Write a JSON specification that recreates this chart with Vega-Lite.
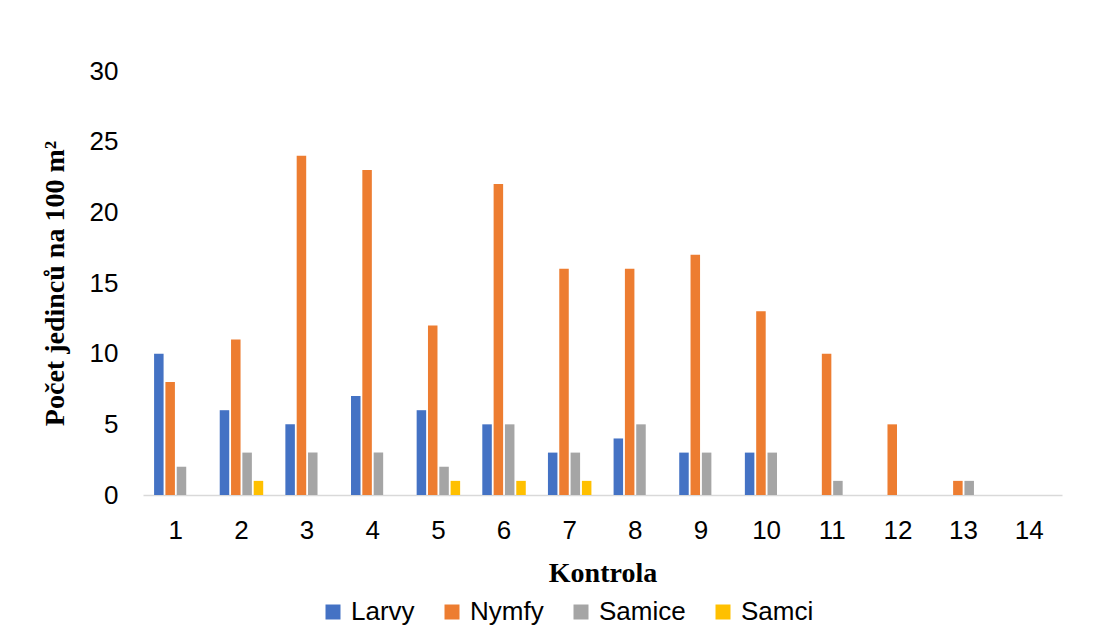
{
  "$schema": "https://vega.github.io/schema/vega-lite/v6.json",
  "width": 919,
  "height": 424,
  "autosize": {"type": "none"},
  "padding": {"left": 143, "top": 71, "right": 31, "bottom": 149},
  "background": "white",
  "config": {
    "view": {"stroke": null}
  },
  "data": {
    "values": [
      {"k": 1, "s": "Larvy", "v": 10}, {"k": 1, "s": "Nymfy", "v": 8}, {"k": 1, "s": "Samice", "v": 2}, {"k": 1, "s": "Samci", "v": 0},
      {"k": 2, "s": "Larvy", "v": 6}, {"k": 2, "s": "Nymfy", "v": 11}, {"k": 2, "s": "Samice", "v": 3}, {"k": 2, "s": "Samci", "v": 1},
      {"k": 3, "s": "Larvy", "v": 5}, {"k": 3, "s": "Nymfy", "v": 24}, {"k": 3, "s": "Samice", "v": 3}, {"k": 3, "s": "Samci", "v": 0},
      {"k": 4, "s": "Larvy", "v": 7}, {"k": 4, "s": "Nymfy", "v": 23}, {"k": 4, "s": "Samice", "v": 3}, {"k": 4, "s": "Samci", "v": 0},
      {"k": 5, "s": "Larvy", "v": 6}, {"k": 5, "s": "Nymfy", "v": 12}, {"k": 5, "s": "Samice", "v": 2}, {"k": 5, "s": "Samci", "v": 1},
      {"k": 6, "s": "Larvy", "v": 5}, {"k": 6, "s": "Nymfy", "v": 22}, {"k": 6, "s": "Samice", "v": 5}, {"k": 6, "s": "Samci", "v": 1},
      {"k": 7, "s": "Larvy", "v": 3}, {"k": 7, "s": "Nymfy", "v": 16}, {"k": 7, "s": "Samice", "v": 3}, {"k": 7, "s": "Samci", "v": 1},
      {"k": 8, "s": "Larvy", "v": 4}, {"k": 8, "s": "Nymfy", "v": 16}, {"k": 8, "s": "Samice", "v": 5}, {"k": 8, "s": "Samci", "v": 0},
      {"k": 9, "s": "Larvy", "v": 3}, {"k": 9, "s": "Nymfy", "v": 17}, {"k": 9, "s": "Samice", "v": 3}, {"k": 9, "s": "Samci", "v": 0},
      {"k": 10, "s": "Larvy", "v": 3}, {"k": 10, "s": "Nymfy", "v": 13}, {"k": 10, "s": "Samice", "v": 3}, {"k": 10, "s": "Samci", "v": 0},
      {"k": 11, "s": "Larvy", "v": 0}, {"k": 11, "s": "Nymfy", "v": 10}, {"k": 11, "s": "Samice", "v": 1}, {"k": 11, "s": "Samci", "v": 0},
      {"k": 12, "s": "Larvy", "v": 0}, {"k": 12, "s": "Nymfy", "v": 5}, {"k": 12, "s": "Samice", "v": 0}, {"k": 12, "s": "Samci", "v": 0},
      {"k": 13, "s": "Larvy", "v": 0}, {"k": 13, "s": "Nymfy", "v": 1}, {"k": 13, "s": "Samice", "v": 1}, {"k": 13, "s": "Samci", "v": 0},
      {"k": 14, "s": "Larvy", "v": 0}, {"k": 14, "s": "Nymfy", "v": 0}, {"k": 14, "s": "Samice", "v": 0}, {"k": 14, "s": "Samci", "v": 0}
    ]
  },
  "mark": {"type": "bar"},
  "encoding": {
    "x": {
      "field": "k", "type": "ordinal", "title": "Kontrola",
      "scale": {"paddingInner": 0.31, "paddingOuter": 0.155},
      "axis": {
        "labelAngle": 0, "labelFont": "Liberation Sans", "labelFontSize": 26, "labelColor": "black", "labelPadding": 22,
        "ticks": false, "domainColor": "#d9d9d9", "domainWidth": 1.5,
        "titleFont": "Liberation Serif", "titleFontSize": 28, "titleFontWeight": "bold", "titleColor": "black", "titlePadding": 16
      }
    },
    "xOffset": {
      "field": "s", "type": "nominal",
      "sort": ["Larvy", "Nymfy", "Samice", "Samci"],
      "scale": {"paddingInner": 0.16, "paddingOuter": 0.08}
    },
    "y": {
      "field": "v", "type": "quantitative", "title": "Počet jedinců na 100 m²",
      "scale": {"domain": [0, 30], "nice": false},
      "axis": {
        "values": [0, 5, 10, 15, 20, 25, 30],
        "labelFont": "Liberation Sans", "labelFontSize": 26, "labelColor": "black", "labelPadding": 25,
        "ticks": false, "domain": false, "grid": false,
        "titleFont": "Liberation Serif", "titleFontSize": 28, "titleFontWeight": "bold", "titleColor": "black", "titlePadding": 20
      }
    },
    "color": {
      "field": "s", "type": "nominal",
      "scale": {"domain": ["Larvy", "Nymfy", "Samice", "Samci"], "range": ["#4472C4", "#ED7D31", "#A5A5A5", "#FFC000"]},
      "legend": {
        "title": null, "orient": "none", "direction": "horizontal",
        "legendX": 177, "legendY": 528,
        "symbolType": "square", "symbolSize": 225, "symbolStrokeWidth": 0,
        "labelFont": "Liberation Sans", "labelFontSize": 26, "labelColor": "black", "labelOffset": 5, "columnPadding": 24
      }
    }
  }
}
